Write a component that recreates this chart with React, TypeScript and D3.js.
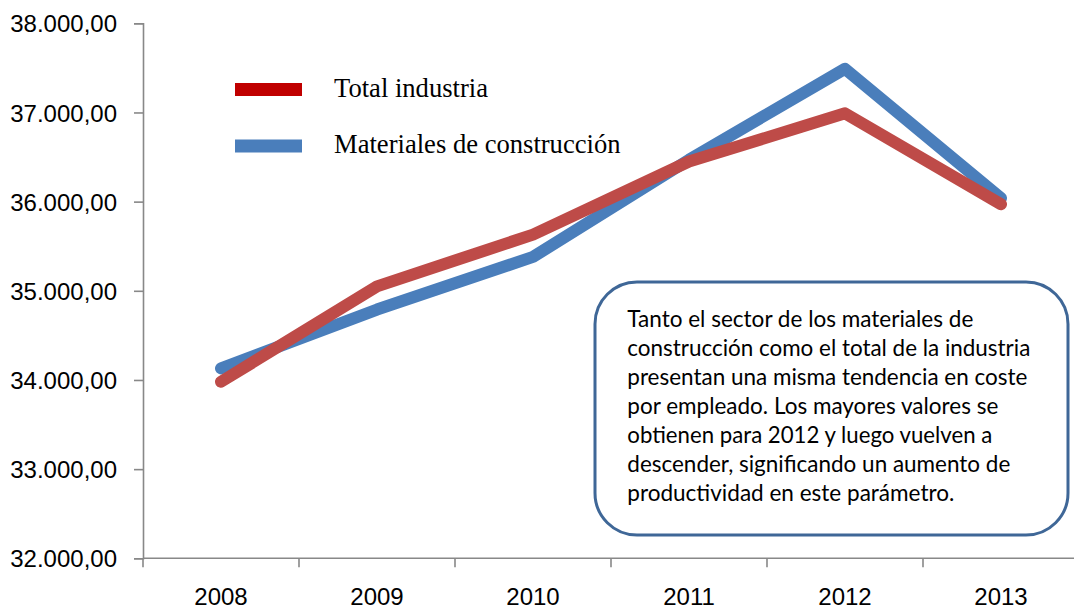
import React, { useEffect, useRef } from "react";
import * as d3 from "d3";

const years = ["2008", "2009", "2010", "2011", "2012", "2013"];
const totalIndustria = [33980, 35050, 35630, 36450, 36990, 35970];
const materiales = [34130, 34790, 35380, 36470, 37490, 36040];
const yTicks = [32000, 33000, 34000, 35000, 36000, 37000, 38000];
const legendLabels = ["Total industria", "Materiales de construcción"];
const noteLines = [
  "Tanto el sector de los materiales de",
  "construcción como el total de la industria",
  "presentan una misma tendencia en coste",
  "por empleado. Los mayores valores se",
  "obtienen para 2012 y luego vuelven a",
  "descender, significando un aumento de",
  "productividad en este parámetro.",
];
const noteWidths = [346, 403, 400, 371, 365, 383, 327];

const es = d3.formatLocale({ decimal: ",", thousands: ".", grouping: [3], currency: ["", "€"] });
const fmt = es.format(",.2f");

const W = 1074, H = 611;

const App = () => {
  const ref = useRef<SVGSVGElement>(null);

  useEffect(() => {
    const svg = d3.select(ref.current);
    svg.selectAll("*").remove();

    const x = d3.scaleBand().domain(years).range([143, 1079]);
    const y = d3.scaleLinear().domain([32000, 38000]).range([558.3, 23.3]);
    const axisColor = "#888888";

    // y axis
    const gy = svg.append("g").attr("transform", "translate(143,0)")
      .call(d3.axisLeft(y).tickValues(yTicks).tickSize(9).tickPadding(17).tickFormat((d) => fmt(d as number)));
    gy.select(".domain").attr("stroke", axisColor).attr("stroke-width", 1.6);
    gy.selectAll(".tick line").attr("stroke", axisColor).attr("stroke-width", 1.6);
    gy.selectAll(".tick text")
      .attr("font-family", "'Liberation Sans', Arial, sans-serif")
      .attr("font-size", 24)
      .attr("fill", "#000")
      .attr("dy", "0.36em");

    // x axis
    const gx = svg.append("g");
    gx.append("line")
      .attr("x1", 143).attr("x2", W).attr("y1", y(32000)).attr("y2", y(32000))
      .attr("stroke", axisColor).attr("stroke-width", 1.6);
    gx.selectAll("line.tick")
      .data(years)
      .join("line")
      .attr("class", "tick")
      .attr("x1", (d) => x(d)!).attr("x2", (d) => x(d)!)
      .attr("y1", y(32000)).attr("y2", y(32000) + 9)
      .attr("stroke", axisColor).attr("stroke-width", 1.6);
    gx.selectAll("text")
      .data(years)
      .join("text")
      .attr("x", (d) => x(d)! + x.bandwidth() / 2)
      .attr("y", 605)
      .attr("text-anchor", "middle")
      .attr("font-family", "'Liberation Sans', Arial, sans-serif")
      .attr("font-size", 24)
      .text((d) => d);

    // lines
    const line = d3.line<number>()
      .x((_, i) => x(years[i])! + x.bandwidth() / 2)
      .y((d) => y(d));
    const series = [
      { values: materiales, color: "#4A7EBB" },
      { values: totalIndustria, color: "#BE4B48" },
    ];
    svg.selectAll("path.series")
      .data(series)
      .join("path")
      .attr("class", "series")
      .attr("d", (d) => line(d.values))
      .attr("fill", "none")
      .attr("stroke", (d) => d.color)
      .attr("stroke-width", 12)
      .attr("stroke-linecap", "round")
      .attr("stroke-linejoin", "round");

    // legend
    const legendColors = ["#C00000", "#4A7EBB"];
    const lg = svg.append("g");
    legendLabels.forEach((label, i) => {
      const cy = 89.5 + i * 56.5;
      lg.append("rect")
        .attr("x", 235).attr("y", cy - 6.5).attr("width", 67).attr("height", 13)
        .attr("fill", legendColors[i]);
      lg.append("text")
        .attr("x", 334).attr("y", 96.7 + i * 56)
        .attr("font-family", "'Liberation Serif', 'Times New Roman', serif")
        .attr("font-size", 26.6)
        .attr("fill", "#000")
        .text(label);
    });

    // note box
    const nb = svg.append("g");
    nb.append("rect")
      .attr("x", 595).attr("y", 282).attr("width", 473).attr("height", 253)
      .attr("rx", 42).attr("ry", 42)
      .attr("fill", "#fff").attr("stroke", "#3F6797").attr("stroke-width", 3);
    noteLines.forEach((t, i) => {
      nb.append("text")
        .attr("x", 627.3).attr("y", 326.7 + i * 29)
        .attr("font-family", "Lato, 'Open Sans', sans-serif")
        .attr("font-size", 23.5)
        .attr("fill", "#000")
        .attr("textLength", noteWidths[i])
        .attr("lengthAdjust", "spacingAndGlyphs")
        .text(t);
    });
  }, []);

  return (
    <svg
      ref={ref}
      width={W}
      height={H}
      style={{ position: "absolute", left: 0, top: 0, background: "#fff" }}
    />
  );
};

export default App;
